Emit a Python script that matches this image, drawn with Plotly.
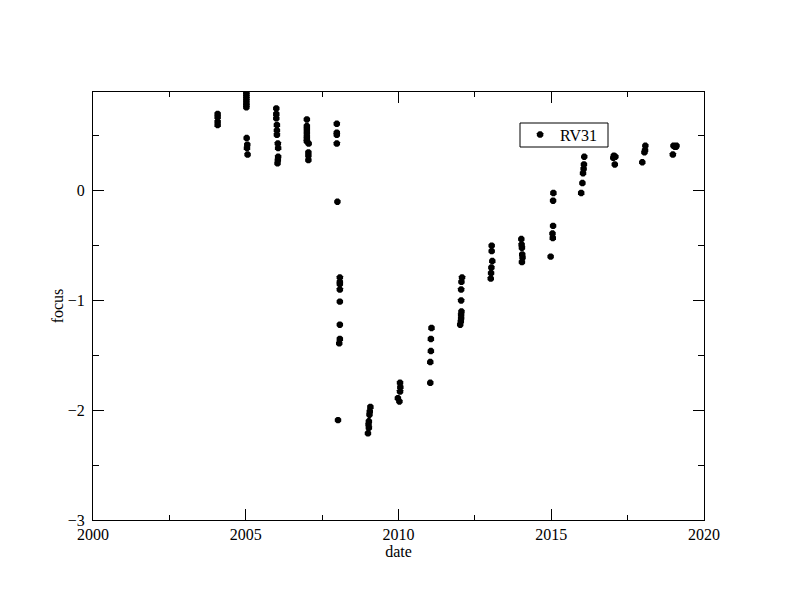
import plotly.graph_objects as go

# date (decimal year) and focus values
dates = (
    [2004.08] * 4
    + [2005.02] * 8 + [2005.03, 2005.05, 2005.04, 2005.06]
    + [2006.0] * 3 + [2006.02] * 3 + [2006.05, 2006.06] + [2006.06, 2006.05, 2006.04]
    + [2007.0] * 7 + [2007.06] + [2007.05] * 3
    + [2007.98] * 4 + [2008.0]
    + [2008.08] * 7 + [2008.06] + [2008.02]
    + [2009.08, 2009.06, 2009.05, 2009.03, 2009.02, 2009.03, 2009.0]
    + [2010.05, 2010.06, 2010.05, 2009.98, 2010.03]
    + [2011.08, 2011.06, 2011.06, 2011.04, 2011.04]
    + [2012.08, 2012.06, 2012.05, 2012.05, 2012.06, 2012.05, 2012.05, 2012.04, 2012.02]
    + [2013.05, 2013.05, 2013.07, 2013.04, 2013.03, 2013.02]
    + [2014.02, 2014.03, 2014.04, 2014.05, 2014.06, 2014.04]
    + [2015.07, 2015.06, 2015.06, 2015.04, 2015.05, 2014.98]
    + [2016.08, 2016.07, 2016.06, 2016.04, 2016.02, 2015.98]
    + [2017.05, 2017.1, 2017.03, 2017.08]
    + [2018.08, 2018.07, 2018.05, 2017.98]
    + [2019.0, 2019.08, 2019.1, 2019.05, 2018.98]
)
focus = (
    [0.70, 0.67, 0.63, 0.60]
    + [0.90, 0.88, 0.86, 0.84, 0.82, 0.80, 0.78, 0.76, 0.48, 0.42, 0.39, 0.33]
    + [0.75, 0.70, 0.66, 0.60, 0.55, 0.51, 0.43, 0.39, 0.31, 0.28, 0.25]
    + [0.65, 0.59, 0.56, 0.53, 0.50, 0.47, 0.45, 0.43, 0.35, 0.32, 0.28]
    + [0.61, 0.53, 0.51, 0.43, -0.10]
    + [-0.79, -0.83, -0.85, -0.90, -1.01, -1.22, -1.35, -1.39, -2.09]
    + [-1.97, -2.01, -2.04, -2.10, -2.13, -2.16, -2.21]
    + [-1.75, -1.79, -1.83, -1.89, -1.92]
    + [-1.25, -1.35, -1.46, -1.56, -1.75]
    + [-0.79, -0.83, -0.90, -1.00, -1.10, -1.13, -1.16, -1.19, -1.22]
    + [-0.50, -0.55, -0.64, -0.70, -0.75, -0.80]
    + [-0.44, -0.49, -0.52, -0.58, -0.61, -0.65]
    + [-0.02, -0.09, -0.32, -0.39, -0.43, -0.60]
    + [0.31, 0.24, 0.20, 0.16, 0.07, -0.02]
    + [0.32, 0.31, 0.30, 0.24]
    + [0.41, 0.37, 0.35, 0.26]
    + [0.41, 0.40, 0.41, 0.40, 0.33]
)
series_name = "RV31"
x_ticks = [2000, 2005, 2010, 2015, 2020]
y_ticks = [-3, -2, -1, 0]

FONT = "Liberation Serif"

fig = go.Figure()
fig.add_trace(go.Scatter(
    x=dates, y=focus, mode="markers", name=series_name,
    marker=dict(symbol="octagon", size=7, color="black", line=dict(width=0)),
))

axis_common = dict(
    showline=True, linecolor="black", linewidth=1, mirror="ticks",
    ticks="inside", ticklen=11, tickcolor="black", tickwidth=1,
    showgrid=False, zeroline=False,
    tickfont=dict(family=FONT, size=16, color="black"),
    title_font=dict(family=FONT, size=16, color="black"),
)
# the page body adds an ~8px offset; margins compensate for it
fig.update_layout(
    width=792, height=612,
    margin=dict(l=85, r=96, t=84, b=100),
    paper_bgcolor="white", plot_bgcolor="white",
    xaxis=dict(range=[2000, 2020], tickvals=x_ticks, title_text="date",
               title_standoff=0,
               minor=dict(dtick=2.5, tick0=2000, ticks="inside", ticklen=5, tickcolor="black"),
               **axis_common),
    yaxis=dict(range=[-3, 0.9], tickvals=y_ticks, title_text="focus",
               title_standoff=0, ticklabelstandoff=4,
               minor=dict(dtick=0.5, tick0=-3, ticks="inside", ticklen=6, tickcolor="black"),
               **axis_common),
    showlegend=True,
    legend=dict(x=0.699, y=0.94, xanchor="left", yanchor="top",
                borderwidth=0, bgcolor="rgba(0,0,0,0)",
                font=dict(family=FONT, size=16, color="black"),
                itemwidth=30, tracegroupgap=0),
    shapes=[dict(type="rect", xref="paper", yref="paper",
                 x0=(520 - 93) / 611, x1=(608 - 93) / 611,
                 y0=(520 - 147) / 428, y1=(520 - 123) / 428,
                 line=dict(color="black", width=1), fillcolor="rgba(0,0,0,0)")],
)
fig.write_html("out.html")
